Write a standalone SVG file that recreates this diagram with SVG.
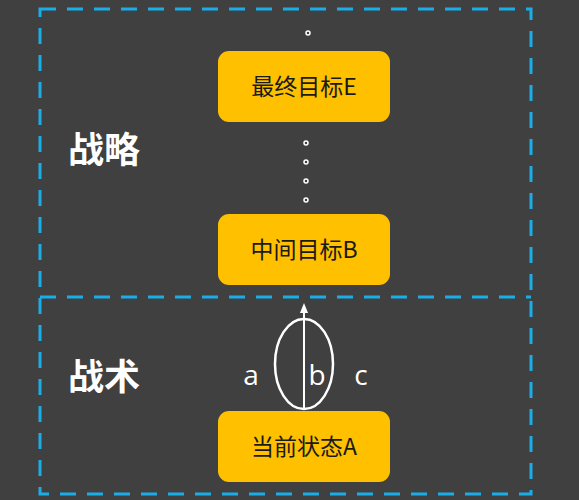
<svg xmlns="http://www.w3.org/2000/svg" width="579" height="500" viewBox="0 0 579 500">
<defs>
<style>
.frame{fill:none;stroke:#1AADE8;stroke-width:3;stroke-dasharray:16 11}
.box{fill:#FFC000}
.bt{font-family:"Noto Sans CJK SC","Liberation Sans",sans-serif;font-size:23px;fill:#1a1a1a;text-anchor:middle}
.lbl{font-family:"Noto Sans CJK SC",sans-serif;font-size:36px;font-weight:bold;fill:#ffffff}
.abc{font-family:"Open Sans","Noto Sans",sans-serif;font-size:28px;fill:#ffffff;text-anchor:middle}
.dot{fill:none;stroke:#ffffff;stroke-width:1.5}
</style>
<marker id="arr" markerWidth="10" markerHeight="10" refX="5" refY="5" orient="auto" markerUnits="userSpaceOnUse">
<path d="M0,1 L10,5 L0,9 Z" fill="#ffffff"/>
</marker>
</defs>
<rect x="0" y="0" width="579" height="500" fill="#404040"/>
<g id="frames">
<rect class="frame" x="40" y="9" width="491" height="485"/>
<line class="frame" x1="40" y1="297" x2="531" y2="297"/>
</g>
<text class="lbl" x="68" y="163">战略</text>
<text class="lbl" x="68" y="390">战术</text>
<g id="dots">
<circle class="dot" cx="308" cy="33" r="2"/>
<circle class="dot" cx="306" cy="143" r="2"/>
<circle class="dot" cx="306" cy="162" r="2"/>
<circle class="dot" cx="306" cy="181" r="2"/>
<circle class="dot" cx="306" cy="200" r="2"/>
</g>
<g id="nodeE">
<rect class="box" x="218" y="51" width="172" height="71" rx="11"/>
<text class="bt" x="304" y="95">最终目标E</text>
</g>
<g id="nodeB">
<rect class="box" x="218" y="214" width="172" height="71" rx="11"/>
<text class="bt" x="304" y="258">中间目标B</text>
</g>
<g id="nodeA">
<rect class="box" x="218" y="411" width="172" height="71" rx="11"/>
<text class="bt" x="304" y="455">当前状态A</text>
</g>
<g id="connectors">
<ellipse cx="304" cy="364" rx="29" ry="45" fill="none" stroke="#ffffff" stroke-width="2.5"/>
<line x1="304" y1="410" x2="304" y2="308" stroke="#ffffff" stroke-width="2" marker-end="url(#arr)"/>
</g>
<text class="abc" x="251" y="385">a</text>
<text class="abc" x="317" y="385">b</text>
<text class="abc" x="361" y="385">c</text>
</svg>
